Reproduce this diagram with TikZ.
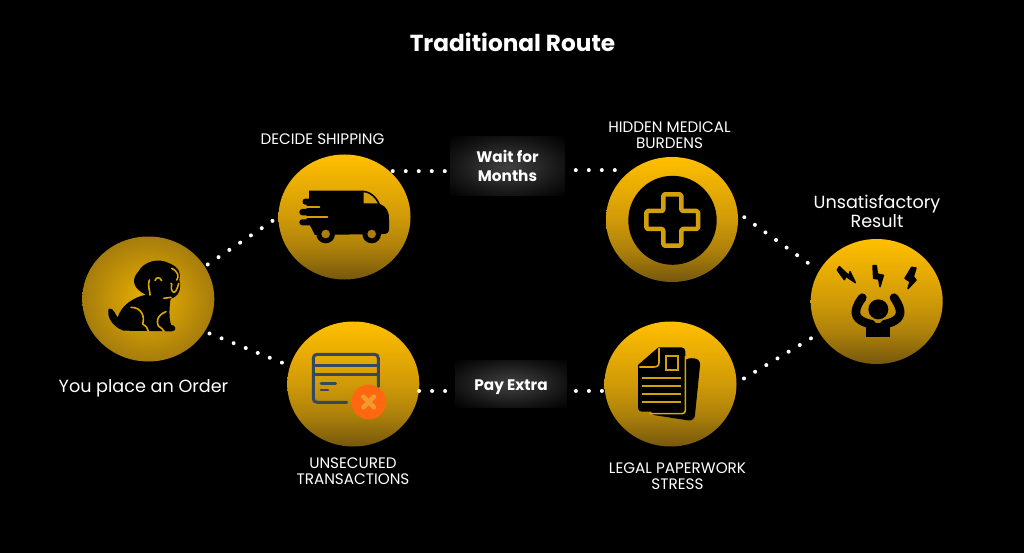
\documentclass[tikz,border=0pt]{standalone}
\usepackage{fontspec}
\setmainfont{Poppins}
\usetikzlibrary{shapes.geometric}
\definecolor{gold}{HTML}{DCA608}
\definecolor{golddim}{HTML}{D4A00A}
\definecolor{slate}{HTML}{34495E}
\definecolor{xorange}{RGB}{255,104,16}
\definecolor{xcross}{RGB}{240,155,45}
\definecolor{rin}{RGB}{236,178,0}
\definecolor{rout}{RGB}{166,124,12}
\definecolor{ga}{RGB}{255,191,0}
\definecolor{gb}{RGB}{232,172,3}
\definecolor{gc}{RGB}{208,154,8}
\definecolor{gd}{RGB}{172,128,10}
\definecolor{ge}{RGB}{118,88,14}
\pgfdeclareverticalshading{goldv}{100bp}{color(0bp)=(ge); color(25bp)=(ge); color(37.5bp)=(gd); color(50bp)=(gc); color(62.5bp)=(gb); color(75bp)=(ga); color(100bp)=(ga)}
\pgfdeclareradialshading{boxglow}{\pgfpointorigin}{color(0bp)=(white!25!black); color(12bp)=(white!17!black); color(25bp)=(white!7!black); color(36bp)=(black); color(50bp)=(black)}
\tikzset{
  vdisc/.style={ellipse,minimum width=132pt,minimum height=125pt,inner sep=0pt,shading=goldv},
  rdisc/.style={ellipse,minimum width=132pt,minimum height=125pt,inner sep=0pt,inner color=rin,outer color=rout},
  dots/.style={white,line width=4pt,line cap=round,dash pattern=on 0.01pt off 13pt},
  glowbox/.style={rectangle,shading=boxglow,inner sep=0pt,text=white,align=center,font=\fontsize{15.3}{19}\selectfont\bfseries},
  label/.style={text=white,align=center,inner sep=0pt,font=\fontsize{15.2}{16}\selectfont},
  biglabel/.style={text=white,align=center,inner sep=0pt,font=\fontsize{17.6}{19}\selectfont},
  ink/.style={fill=black,draw=none},
  goldline/.style={draw=gold,line width=1.6pt,line cap=round,line join=round,fill=none},
}
\begin{document}
\begin{tikzpicture}[x=1pt,y=-1pt]
\fill[black] (0,0) rectangle (1024,553);
\useasboundingbox (0,0) rectangle (1024,553);

% discs
\node[rdisc] (dog) at (148.3,299) {};
\node[vdisc] (truck) at (344.5,217) {};
\node[vdisc] (card) at (353.3,384) {};
\node[vdisc] (med) at (672,219.5) {};
\node[vdisc] (doc) at (670.5,384) {};
\node[vdisc] (res) at (876.7,301.5) {};

% boxes are placed first so the dotted lines can refer to them
\path node[minimum width=115pt,minimum height=59pt] (waitanchor) at (507.5,166.5) {}
      node[minimum width=112pt,minimum height=47pt] (payanchor) at (511,383.5) {};

% connectors
\draw[dots,shorten <=3.5pt,shorten >=5pt] (dog.30) -- (truck.180);
\draw[dots,shorten <=5pt,shorten >=6pt] (dog.-30) -- (card.164);
\draw[dots,shorten <=2.7pt] (truck.45) -- (truck.45 -| waitanchor.center);
\draw[dots,shorten <=16pt] (med.130.6) -- (med.130.6 -| waitanchor.center);
\draw[dots] (card.-6) -- (card.-6 -| payanchor.center);
\draw[dots,shorten <=2.8pt] (doc.186) -- (doc.186 -| payanchor.center);
\draw[dots,shorten <=8pt,shorten >=11pt] (med.6) -- (res.152);
\draw[dots,shorten <=8.5pt,shorten >=8pt] (doc.1) -- (res.209);

% boxes
\node[glowbox,minimum width=115pt,minimum height=59pt] (wait) at (507.5,166.5) {Wait for\\Months\rule[-2pt]{0pt}{2pt}};
\node[glowbox,minimum width=112pt,minimum height=47pt] (pay) at (511,383.5) {\rule{0pt}{18pt}Pay Extra};

% title and labels
\node[text=white,inner sep=0pt,font=\fontsize{23.2}{26}\selectfont\bfseries] (title) at (512.5,42) {Traditional Route};
\node[label] (l1) at (322.5,139.5) {DECIDE SHIPPING};
\node[label] (l2) at (669.5,135.5) {HIDDEN MEDICAL\\BURDENS};
\node[label] (l3) at (353,471.5) {UNSECURED\\TRANSACTIONS};
\node[label] (l4) at (677.5,476.5) {LEGAL PAPERWORK\\STRESS};
\node[biglabel] (l5) at (877,211.5) {Unsatisfactory\\Result};
\node[biglabel] (l6) at (143.5,388) {You place an Order};

% dog icon
\begin{scope}[shift={(70,220)},scale=1/3]
\fill[ink] (116,266) .. controls (110,290) and (125,318) .. (160,332)
  -- (305,334) .. controls (320,334) and (320,316) .. (303,314)
  .. controls (296,290) and (298,260) .. (302,236)
  .. controls (325,232) and (336,205) .. (328,180)
  .. controls (335,160) and (325,140) .. (298,130)
  .. controls (265,112) and (220,125) .. (205,155)
  .. controls (185,175) and (185,205) .. (228,224)
  .. controls (190,232) and (155,255) .. (143,292)
  .. controls (135,285) and (132,262) .. (116,266) -- cycle;
\draw[goldline] (183,262) .. controls (215,262) and (225,290) .. (218,312) .. controls (228,315) and (232,325) .. (235,333);
\draw[goldline] (288,275) .. controls (262,285) and (258,305) .. (265,318) .. controls (272,322) and (278,328) .. (282,333);
\draw[goldline] (255,182) .. controls (258,170) and (270,170) .. (275,182);
\draw[goldline] (281,235) -- (303,232);
\draw[goldline] (303,190) .. controls (310,190) and (298,205) .. (308,215) .. controls (315,222) and (322,208) .. (326,190);
\draw[goldline] (305,145) .. controls (325,155) and (328,170) .. (320,180);
\draw[goldline] (238,180) .. controls (232,195) and (240,212) .. (240,225);
\end{scope}

% truck icon
\begin{scope}[shift={(265,140)},scale=1/3]
\fill[ink] (132,152) -- (296,152) .. controls (325,155) and (340,180) .. (345,192)
  .. controls (365,200) and (373,215) .. (372,240) -- (372,268)
  .. controls (372,278) and (365,282) .. (355,282) -- (150,285) -- (135,256) -- (112,256)
  .. controls (100,256) and (100,238) .. (112,238) -- (125,238) -- (125,226) -- (112,226)
  .. controls (100,226) and (100,207) .. (112,207) -- (125,207) -- (125,194) -- (120,194)
  .. controls (110,194) and (110,176) .. (120,176) -- (132,176) -- cycle;
\fill[golddim] (296,157) .. controls (318,160) and (330,175) .. (338,190) -- (296,190) -- cycle;
\draw[draw=golddim,line width=2.2pt,line cap=round] (122,200) -- (163,200);
\draw[draw=golddim,line width=2.2pt,line cap=round] (122,232) -- (187,232);
\fill[black] (182,282) circle[radius=28];
\fill[black] (320,282) circle[radius=28];
\fill[gd] (182,282) circle[radius=13];
\fill[gd] (320,282) circle[radius=13];
\end{scope}

% card icon
\begin{scope}[shift={(280,315)},scale=1/3]
\draw[slate,line width=3pt,line cap=round,line join=round] (200,262) -- (112,262) .. controls (104,262) and (100,258) .. (100,250) -- (100,130) .. controls (100,122) and (104,118) .. (112,118) -- (283,118) .. controls (291,118) and (295,122) .. (295,130) -- (295,215);
\draw[slate,line width=3pt] (100,150) -- (295,150);
\draw[slate,line width=3pt] (100,178) -- (295,178);
\draw[slate,line width=2.6pt,line cap=round] (123,205) -- (167,205);
\draw[slate,line width=2.6pt,line cap=round] (123,225) -- (144,225);
\fill[xorange] (266,261) circle[radius=52];
\draw[xcross,line width=4.4pt,line cap=round] (250,245) -- (282,277);
\draw[xcross,line width=4.4pt,line cap=round] (282,245) -- (250,277);
\end{scope}

% medical icon
\fill[black] (672.5,220.3) ellipse[x radius=44.2,y radius=44.5];
\begin{scope}[shift={(600,150)},scale=1/3]
\draw[golddim,line width=4.5pt,line join=round,rounded corners=1.5pt,fill=black]
  (190,133) -- (244,133) -- (244,183) -- (294,183) -- (294,237) -- (244,237) -- (244,287) -- (190,287) -- (190,237) -- (139,237) -- (139,183) -- (190,183) -- cycle;
\end{scope}

% document icon
\begin{scope}[shift={(595,315)},scale=1/3]
\fill[ink,rounded corners=6pt] (272,128) -- (317,132) -- (298,319) -- (162,298) -- cycle;
\fill[ink] (190,97) -- (258,97) .. controls (265,97) and (271,101) .. (271,108) -- (271,290) -- (140,290) .. controls (133,290) and (129,285) .. (129,278) -- (129,150) -- cycle;
\draw[goldline] (271,125) -- (271,286) .. controls (271,292) and (268,295) .. (262,296) -- (165,296);
\draw[goldline] (192,100) -- (192,142) .. controls (192,152) and (186,156) .. (176,156) -- (134,156);
\draw[golddim,line width=2.1pt] (212,122) rectangle (248,165);
\foreach \yy in {190,213,237,262} \draw[golddim,line width=2pt] (142,\yy) -- (258,\yy);
\end{scope}

% result icon
\begin{scope}[shift={(800,230)},scale=1/3]
\filldraw[black,line width=1.5pt,line join=round] (118,110) -- (147,137) -- (150,125) -- (166,158) -- (138,139) -- (133,149) -- (112,120) -- cycle;
\filldraw[black,line width=1.5pt,line join=round] (219,107) -- (229,107) -- (232,132) -- (250,136) -- (240,170) -- (236,147) -- (221,145) -- cycle;
\filldraw[black,line width=1.5pt,line join=round] (335,112) -- (348,114) -- (340,140) -- (348,150) -- (324,176) -- (330,155) -- (315,145) -- cycle;
\fill[black] (235,238) circle[radius=30];
\draw[black,line width=8.6pt,line cap=round,line join=round] (187,203) .. controls (170,225) and (160,250) .. (175,265) .. controls (185,275) and (195,278) .. (215,283);
\draw[black,line width=8.6pt,line cap=round,line join=round] (282,203) .. controls (298,225) and (308,250) .. (293,265) .. controls (283,275) and (273,278) .. (253,283);
\fill[ink] (198,280) -- (270,280) -- (270,321) -- (198,321) -- cycle;
\end{scope}
\end{tikzpicture}
\end{document}
